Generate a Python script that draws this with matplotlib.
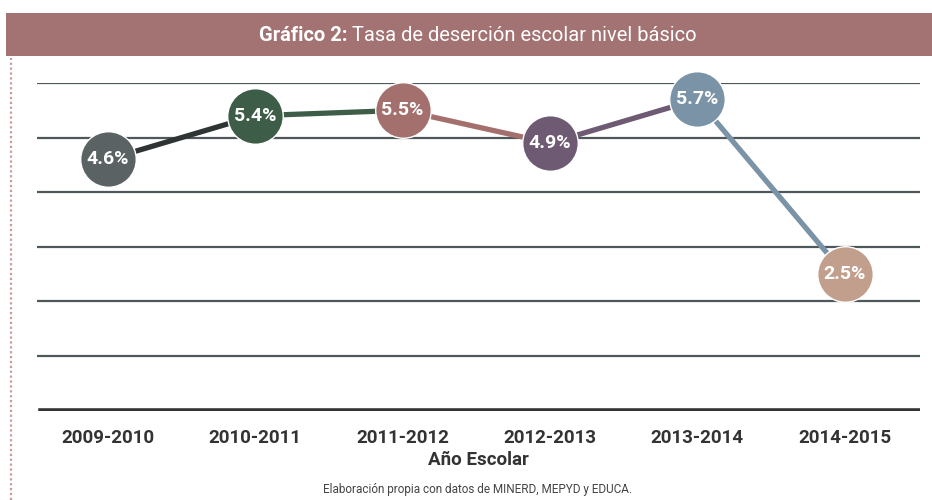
import matplotlib
matplotlib.use("Agg")
import matplotlib.pyplot as plt
from matplotlib.patches import Rectangle
from matplotlib.lines import Line2D

# Datos
anios = ["2009-2010", "2010-2011", "2011-2012", "2012-2013", "2013-2014", "2014-2015"]
tasa = [4.6, 5.4, 5.5, 4.9, 5.7, 2.5]
colores_punto = ["#5a6264", "#3e5d49", "#a4706e", "#6e5a73", "#7a93a6", "#c29e8c"]
colores_linea = ["#2e3434", "#3e5d49", "#a4706e", "#6e5a73", "#7a93a6"]

plt.rcParams['font.family'] = ['Roboto', 'DejaVu Sans']

fig = plt.figure(figsize=(9.32, 5.0), dpi=100)

# barra del título
fig.patches.append(Rectangle((6 / 932, 1 - 56 / 500), 926 / 932, 43 / 500,
                             transform=fig.transFigure, facecolor="#a37272",
                             edgecolor="none"))
t1 = fig.text(0.0, 1 - 35 / 500, "Gráfico 2: ", color="white", fontsize=14.5,
              fontweight="bold", va="center", ha="left")
t2 = fig.text(0.0, 1 - 35 / 500, "Tasa de deserción escolar nivel básico",
              color="white", fontsize=14.5, va="center", ha="left")
fig.canvas.draw()
r = fig.canvas.get_renderer()
w1 = t1.get_window_extent(r).width / fig.bbox.width
w2 = t2.get_window_extent(r).width / fig.bbox.width
x0 = 478 / 932 - (w1 + w2) / 2
t1.set_x(x0)
t2.set_x(x0 + w1)

# línea punteada a la izquierda
fig.lines.append(Line2D([11 / 932, 11 / 932], [0, 1 - 58 / 500],
                        transform=fig.transFigure, color="#c99a9a",
                        linestyle=(0, (1, 1.2)), linewidth=1.6))

ax = fig.add_axes([37 / 932, 1 - 410.7 / 500, (920 - 37) / 932, (410.7 - 83) / 500])
x = list(range(len(anios)))

for i in range(1, 7):
    ax.axhline(i, color="#50575a", linewidth=1.6, zorder=1)
ax.axhline(0, xmin=0.005, color="#333333", linewidth=4, zorder=1)

for i in range(len(x) - 1):
    ax.plot(x[i:i + 2], tasa[i:i + 2], color=colores_linea[i], linewidth=3.8,
            solid_capstyle="butt", zorder=2)

for i in range(len(x)):
    ax.plot(x[i], tasa[i], "o", markersize=40, color=colores_punto[i],
            markeredgecolor="white", markeredgewidth=1, zorder=3, clip_on=False)
    ax.text(x[i], tasa[i], f"{tasa[i]}%", color="white", fontsize=14,
            fontweight="bold", ha="center", va="center", zorder=4)

ax.set_xlim(-0.48, 5.51)
ax.set_ylim(0, 6)
for s in ax.spines.values():
    s.set_visible(False)
ax.set_yticks([])
ax.set_xticks(x)
ax.set_xticklabels(anios, fontsize=13.5, fontweight="bold", color="#333333")
ax.tick_params(axis="x", length=0, pad=13)
ax.set_xlabel("Año Escolar", fontsize=13.5, fontweight="bold", color="#333333",
              labelpad=3)

fig.text(478 / 932, 1 - 489 / 500, "Elaboración propia con datos de MINERD, MEPYD y EDUCA.",
         fontsize=8.5, color="#444444", ha="center", va="center")

fig.savefig("out.png", dpi=100)
